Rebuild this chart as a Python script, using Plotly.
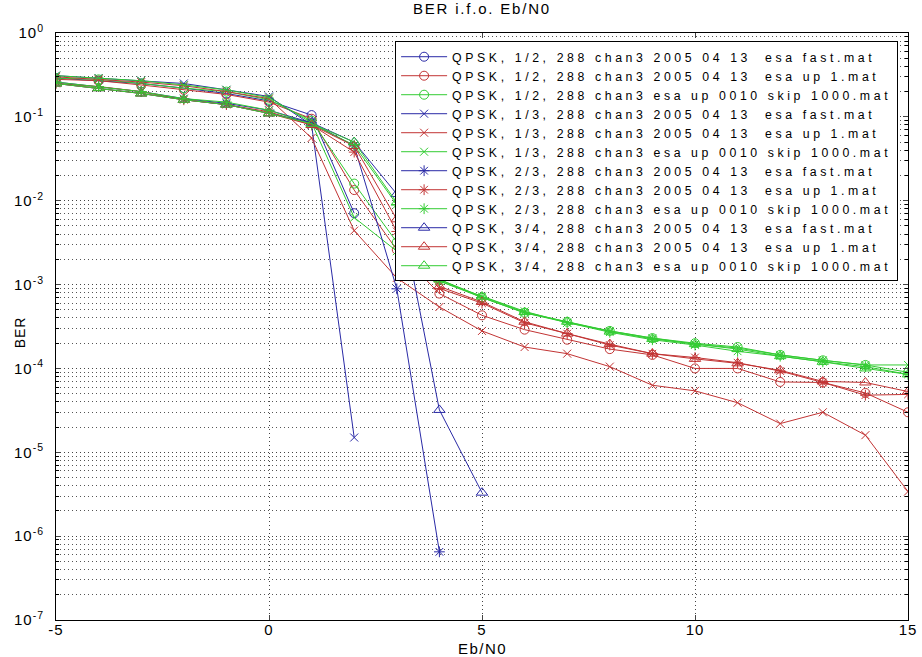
import plotly.graph_objects as go

title = "BER i.f.o. Eb/N0"
x_title = "Eb/N0"
y_title = "BER"

x_full = [-5, -4, -3, -2, -1, 0, 1, 2, 3, 4, 5, 6, 7, 8, 9, 10, 11, 12, 13, 14, 15]

names = [
    "QPSK, 1/2, 288 chan3 2005 04 13  esa fast.mat",
    "QPSK, 1/2, 288 chan3 2005 04 13  esa up 1.mat",
    "QPSK, 1/2, 288 chan3 esa up 0010 skip 1000.mat",
    "QPSK, 1/3, 288 chan3 2005 04 13  esa fast.mat",
    "QPSK, 1/3, 288 chan3 2005 04 13  esa up 1.mat",
    "QPSK, 1/3, 288 chan3 esa up 0010 skip 1000.mat",
    "QPSK, 2/3, 288 chan3 2005 04 13  esa fast.mat",
    "QPSK, 2/3, 288 chan3 2005 04 13  esa up 1.mat",
    "QPSK, 2/3, 288 chan3 esa up 0010 skip 1000.mat",
    "QPSK, 3/4, 288 chan3 2005 04 13  esa fast.mat",
    "QPSK, 3/4, 288 chan3 2005 04 13  esa up 1.mat",
    "QPSK, 3/4, 288 chan3 esa up 0010 skip 1000.mat",
]

ber_r12_fast = [0.29, 0.27, 0.25, 0.22, 0.19, 0.155, 0.105, 0.0071]
ber_r12_up1 = [0.28, 0.27, 0.24, 0.21, 0.185, 0.15, 0.095, 0.0134, 0.0026, 7.8e-4, 4.3e-4,
               2.9e-4, 2.2e-4, 1.7e-4, 1.45e-4, 1.0e-4, 1.0e-4, 6.9e-5, 6.8e-5, 5.1e-5, 3.0e-5]
ber_r12_skip = [0.29, 0.28, 0.25, 0.22, 0.2, 0.16, 0.09, 0.016, 0.0032, 1.15e-3, 7.0e-4,
                4.6e-4, 3.6e-4, 2.8e-4, 2.3e-4, 2.0e-4, 1.8e-4, 1.45e-4, 1.25e-4, 1.1e-4, 9.0e-5]
ber_r13_fast = [0.31, 0.29, 0.27, 0.25, 0.21, 0.175, 0.08, 1.5e-5]
ber_r13_up1 = [0.3, 0.28, 0.26, 0.235, 0.2, 0.165, 0.056, 0.0044, 0.0012, 5.4e-4, 2.8e-4,
               1.8e-4, 1.5e-4, 1.05e-4, 6.3e-5, 5.4e-5, 3.9e-5, 2.2e-5, 3.0e-5, 1.6e-5, 3.4e-6]
ber_r13_skip = [0.31, 0.29, 0.27, 0.24, 0.21, 0.17, 0.085, 0.0063, 0.0025, 1.1e-3, 7.2e-4,
                4.8e-4, 3.5e-4, 2.8e-4, 2.3e-4, 1.95e-4, 1.75e-4, 1.45e-4, 1.25e-4, 1.1e-4, 1.1e-4]
ber_r23_fast = [0.26, 0.23, 0.2, 0.165, 0.145, 0.12, 0.085, 0.045, 8.9e-4, 6.5e-7]
ber_r23_up1 = [0.25, 0.23, 0.2, 0.16, 0.14, 0.115, 0.08, 0.038, 0.0043, 9.0e-4, 6.0e-4,
               3.5e-4, 2.6e-4, 1.9e-4, 1.5e-4, 1.35e-4, 1.17e-4, 9.3e-5, 6.8e-5, 4.8e-5, 4.9e-5]
ber_r23_skip = [0.26, 0.23, 0.2, 0.165, 0.15, 0.12, 0.082, 0.046, 0.009, 1.1e-3, 7.0e-4,
                4.6e-4, 3.5e-4, 2.7e-4, 2.2e-4, 1.9e-4, 1.6e-4, 1.4e-4, 1.2e-4, 1.05e-4, 8.5e-5]
ber_r34_fast = [0.25, 0.22, 0.19, 0.16, 0.14, 0.11, 0.085, 0.05, 0.012, 3.2e-5, 3.3e-6]
ber_r34_up1 = [0.25, 0.22, 0.19, 0.16, 0.14, 0.11, 0.08, 0.045, 0.006, 9.5e-4, 6.2e-4,
               3.6e-4, 2.6e-4, 1.95e-4, 1.5e-4, 1.3e-4, 1.15e-4, 9.5e-5, 7.0e-5, 6.8e-5, 5.3e-5]
ber_r34_skip = [0.25, 0.22, 0.19, 0.16, 0.14, 0.11, 0.083, 0.05, 0.0095, 1.15e-3, 7.2e-4,
                4.7e-4, 3.6e-4, 2.75e-4, 2.25e-4, 1.95e-4, 1.7e-4, 1.4e-4, 1.2e-4, 1.0e-4, 8.5e-5]

series = [ber_r12_fast, ber_r12_up1, ber_r12_skip,
          ber_r13_fast, ber_r13_up1, ber_r13_skip,
          ber_r23_fast, ber_r23_up1, ber_r23_skip,
          ber_r34_fast, ber_r34_up1, ber_r34_skip]

y_tick_vals = [1, 1e-1, 1e-2, 1e-3, 1e-4, 1e-5, 1e-6, 1e-7]
y_tick_text = ["10<sup>0</sup>", "10<sup>-1</sup>", "10<sup>-2</sup>", "10<sup>-3</sup>",
               "10<sup>-4</sup>", "10<sup>-5</sup>", "10<sup>-6</sup>", "10<sup>-7</sup>"]
x_tick_vals = [-5, 0, 5, 10, 15]
x_tick_text = ["-5", "0", "5", "10", "15"]


def sp(text, px):
    return '<span style="letter-spacing:%spx">%s</span>' % (px, text)


colors = ["#2a2aa6", "#c23434", "#33cc33"]
symbols = ["circle-open", "x-thin-open", "asterisk-open", "triangle-up-open"]
sizes = [9, 8, 9, 10]

fig = go.Figure()
for i, (nm, ys) in enumerate(zip(names, series)):
    c = colors[i % 3]
    s = i // 3
    fig.add_trace(go.Scatter(
        x=x_full[:len(ys)], y=ys, name=sp(nm, 3.6), mode="lines+markers",
        line=dict(color=c, width=1),
        marker=dict(symbol=symbols[s], size=sizes[s], color=c, line=dict(color=c, width=1)),
    ))

font = "Liberation Sans, Arial, sans-serif"
grid_dash = "1px,3px"
fig.update_layout(
    width=922, height=657,
    paper_bgcolor="white", plot_bgcolor="white",
    margin=dict(l=56, r=14, t=33, b=37, autoexpand=False),
    title=dict(text=sp(title, 1.8), xref="paper", x=0.5, xanchor="center",
               yref="container", y=0.995, yanchor="top",
               font=dict(family=font, size=15, color="black")),
    font=dict(family=font, color="black"),
    showlegend=True,
    legend=dict(x=0.398, y=0.986, xanchor="left", yanchor="top",
                bgcolor="white", bordercolor="black", borderwidth=1,
                font=dict(family=font, size=12.3, color="black"),
                tracegroupgap=0, itemwidth=46),
    xaxis=dict(range=[-5, 15], tickvals=x_tick_vals, automargin=False,
               ticktext=[sp(t, 1) for t in x_tick_text],
               ticks="inside", ticklen=5, ticklabelstandoff=-4,
               showline=True, linecolor="black", linewidth=1, mirror="ticks",
               showgrid=True, gridcolor="#444444", griddash=grid_dash, gridwidth=1,
               zeroline=False, tickfont=dict(size=15)),
    yaxis=dict(type="log", range=[-7, 0], tickvals=y_tick_vals, automargin=False,
               ticktext=[sp(t, 1) for t in y_tick_text],
               ticks="inside", ticklen=5, ticklabelstandoff=8,
               showline=True, linecolor="black", linewidth=1, mirror="ticks",
               showgrid=True, gridcolor="#444444", griddash=grid_dash, gridwidth=1,
               zeroline=False, tickfont=dict(size=15),
               minor=dict(dtick="D1", showgrid=True, gridcolor="#555555", griddash=grid_dash,
                          gridwidth=1, ticks="inside", ticklen=3, tickcolor="black")),
    annotations=[
        dict(text=sp(x_title, 1.5), xref="paper", yref="paper", x=0.5, y=0,
             xanchor="center", yanchor="top", yshift=-18, showarrow=False,
             font=dict(family=font, size=15, color="black")),
        dict(text=sp(y_title, 1), xref="paper", yref="paper", x=-0.0423, y=0.49,
             xanchor="center", yanchor="middle", textangle=-90, showarrow=False,
             font=dict(family=font, size=14, color="black")),
    ],
)

fig.write_html(
    "out.html",
    config={"displayModeBar": False},
    post_script="document.body.style.margin='0';document.body.style.overflow='hidden';",
)
